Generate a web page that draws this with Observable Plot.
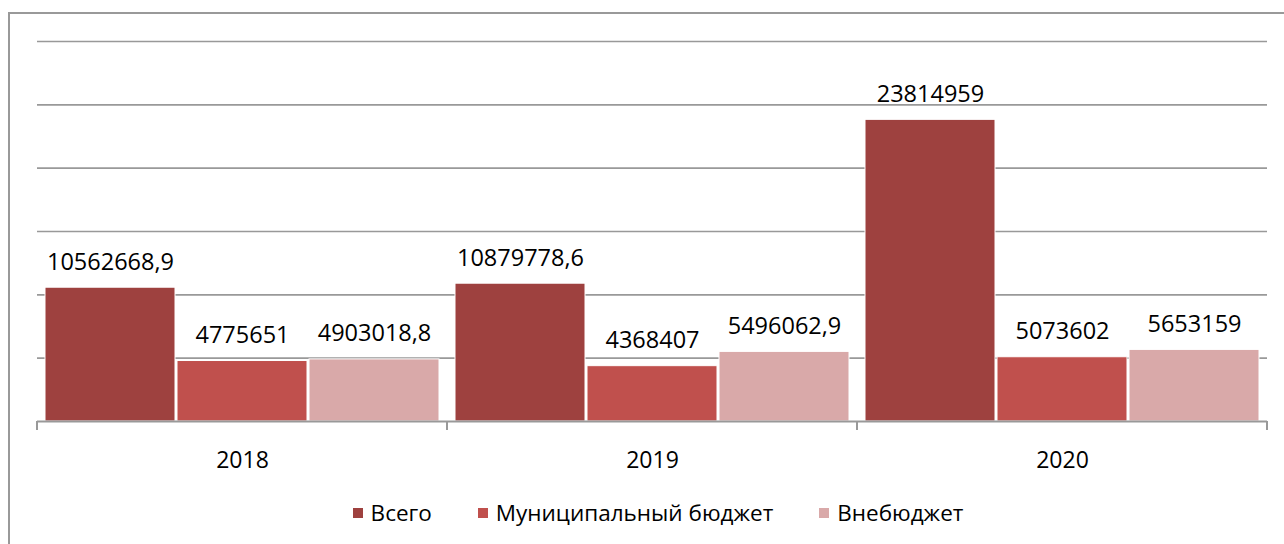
<!DOCTYPE html>
<html>
<head>
<meta charset="utf-8">
<script src="https://cdn.jsdelivr.net/npm/d3@7"></script>
<script src="https://cdn.jsdelivr.net/npm/@observablehq/plot@0.6"></script>
<style>
  html, body { margin: 0; padding: 0; background: #fff; }
  #wrap { position: relative; width: 1284px; height: 544px; overflow: hidden; font-family: "Open Sans", sans-serif; }
  #frame { position: absolute; left: 8px; top: 12px; width: 1400px; height: 700px; border-top: 2px solid #999; border-left: 2px solid #999; box-sizing: border-box; }
  #chart { position: absolute; left: 0; top: 0; }
  #legend { position: absolute; left: 0; top: 500px; width: 1284px; display: flex; justify-content: center; align-items: center; font-size: 22.5px; line-height: 26px; color: #000; padding-left: 32px; box-sizing: border-box; }
  .item { display: flex; align-items: center; margin: 0 23px; }
  .sw { width: 10px; height: 10px; margin-right: 8px; }
</style>
</head>
<body>
<div id="wrap">
  <div id="frame"></div>
  <div id="chart"></div>
  <div id="legend"></div>
</div>
<script>
const years = ["2018", "2019", "2020"];
const series = ["Всего", "Муниципальный бюджет", "Внебюджет"];
const total = [10562668.9, 10879778.6, 23814959];
const municipal = [4775651, 4368407, 5073602];
const offBudget = [4903018.8, 5496062.9, 5653159];
const colors = ["#9e413f", "#c0504d", "#d9a9a9"];
const gridTicks = [5000000, 10000000, 15000000, 20000000, 25000000, 30000000];

const valuesBySeries = [total, municipal, offBudget];
const rows = [];
years.forEach((year, i) => {
  series.forEach((s, j) => {
    rows.push({ year, series: s, value: valuesBySeries[j][i] });
  });
});
const fmt = v => String(v).replace(".", ",");

const chart = Plot.plot({
  width: 1284,
  height: 490,
  marginLeft: 37,
  marginRight: 17,
  marginTop: 41,
  marginBottom: 69,
  style: { fontFamily: "Open Sans", fontSize: "23px", background: "transparent", color: "#000", overflow: "visible" },
  fx: { domain: years, padding: 0, label: null, axis: "bottom", tickSize: 0, tickPadding: 30 },
  x: { domain: series, axis: null, paddingInner: 0.015, paddingOuter: 0.06 },
  y: { domain: [0, 30000000], axis: null },
  color: { domain: series, range: colors },
  marks: [
    Plot.ruleY(gridTicks, { stroke: "#999", strokeWidth: 1.6 }),
    Plot.barY(rows, { fx: "year", x: "series", y: "value", fill: "series", stroke: "#fff", strokeWidth: 1 }),
    Plot.text(rows, { fx: "year", x: "series", y: "value", text: d => fmt(d.value), lineAnchor: "bottom", dy: -18, fill: "#000", fontSize: 23.5 }),
    Plot.ruleY([0], { stroke: "#999", strokeWidth: 2 })
  ]
});
document.getElementById("chart").appendChild(chart);

// tick marks at category boundaries, from the fx band scale
const fxs = chart.scale("fx");
const ys = chart.scale("y");
const y0 = ys.apply(0);
const bounds = years.map(y => fxs.apply(y));
bounds.push(fxs.apply(years[years.length - 1]) + fxs.bandwidth);
const svg = d3.select(chart);
svg.append("g").selectAll("line").data(bounds).join("line")
  .attr("x1", d => d).attr("x2", d => d)
  .attr("y1", y0).attr("y2", y0 + 9)
  .attr("stroke", "#999").attr("stroke-width", 2);

// legend
const legend = d3.select("#legend");
series.forEach((s, i) => {
  const it = legend.append("div").attr("class", "item");
  it.append("div").attr("class", "sw").style("background", colors[i]);
  it.append("span").text(s);
});
</script>
</body>
</html>
